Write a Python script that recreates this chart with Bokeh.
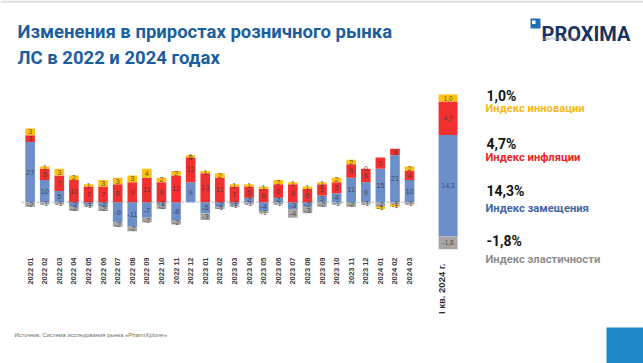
import math
from bokeh.plotting import figure
from bokeh.models import ColumnDataSource, FactorRange, Range1d, Label, BoxAnnotation
from bokeh.core.properties import value
from bokeh.embed import file_html
from bokeh.resources import INLINE

# ---------------- data ----------------
months = ["2022 01", "2022 02", "2022 03", "2022 04", "2022 05", "2022 06", "2022 07",
          "2022 08", "2022 09", "2022 10", "2022 11", "2022 12", "2023 01", "2023 02",
          "2023 03", "2023 04", "2023 05", "2023 06", "2023 07", "2023 08", "2023 09",
          "2023 10", "2023 11", "2023 12", "2024 01", "2024 02", "2024 03"]
substitution = [27, 10, 5, -2, -1, -2, -9, -11, -7, -1, -8, 9, -5, -2, -1, 2, -4, 2, -3, -2, 3, 4, 11, 9, 15, 21, 10]
inflation = [3, 5, 7, 10, 7, 7, 8, 9, 11, 9, 12, 11, 13, 11, 7, 5, 6, 6, 8, 6, 5, 5, 6, 6, 5, 3, 4]
innovation = [3, 1, 3, 2, 1, 3, 3, 3, 4, 2, 2, 1, 1, 2, 1, 1, 1, 2, 1, 1, 1, 2, 2, 0, -1, -1, 2]
elasticity = [-2, -1, -1, -2, -1, -2, -2, -2, -2, -2, -2, 0, -3, -1, -1, -1, -1, -1, -4, -3, -2, -1, -2, -1, -2, -1, -1]

summary_category = "I кв. 2024 г."
series_names = ["Индекс замещения", "Индекс инфляции", "Индекс инновации", "Индекс эластичности"]
summary_values = [14.3, 4.7, 1.0, -1.8]
legend_order = ["Индекс инновации", "Индекс инфляции", "Индекс замещения", "Индекс эластичности"]

title_lines = ["Изменения в приростах розничного рынка", "ЛС в 2022 и 2024 годах"]
source_text = "Источник: Система исследования рынка «PharmXplorer»"

# ---------------- styles ----------------
colors = {"Индекс замещения": "#6C8FCA", "Индекс инфляции": "#F2302F",
          "Индекс инновации": "#FFC10E", "Индекс эластичности": "#A6A6A6"}
text_colors = {"Индекс замещения": "#3F67A6", "Индекс инфляции": "#EA2424",
               "Индекс инновации": "#F7B916", "Индекс эластичности": "#8E8E8E"}
stack_order = ["Индекс замещения", "Индекс инфляции", "Индекс эластичности", "Индекс инновации"]

W, H = 643, 363

spacers = [" ", "  "]
trail = [" " * k for k in range(3, 14)]
factors = months + spacers + [summary_category] + trail

p = figure(width=W, height=H,
           x_range=FactorRange(factors=factors, range_padding=1.53, range_padding_units="absolute"),
           y_range=Range1d(-72.33, 90.45), output_backend="svg", toolbar_location=None,
           min_border=0, x_axis_location=None, y_axis_location=None, outline_line_color=None)
p.extra_y_ranges = {"summary": Range1d(-17.89, 33.24)}
p.xgrid.visible = False
p.ygrid.visible = False

# ---- stacked month bars ----
month_series = {"Индекс замещения": substitution, "Индекс инфляции": inflation,
                "Индекс инновации": innovation, "Индекс эластичности": elasticity}
seg = dict(x=[], bottom=[], top=[], color=[], label=[], ly=[])
for i, m in enumerate(months):
    pos, neg = 0.0, 0.0
    for name in stack_order:
        v = month_series[name][i]
        if v >= 0:
            b, t = pos, pos + v
            pos = t
        else:
            b, t = neg + v, neg
            neg = b
        seg["x"].append(m)
        seg["bottom"].append(b)
        seg["top"].append(t)
        seg["color"].append(colors[name])
        seg["label"].append(str(v))
        seg["ly"].append((b + t) / 2)
src = ColumnDataSource(seg)

# zero line
zl = ColumnDataSource(dict(x=[[months[0], -0.6], [months[-1], 0.5]], y=[0, 0]))
p.line("x", "y", source=zl, line_color="#CFCFCF", line_width=1.5, line_dash="3 2")

p.vbar(x="x", bottom="bottom", top="top", width=0.66, fill_color="color",
       line_color=None, source=src)
p.text(x="x", y="ly", text="label", source=src, text_font=value("Liberation Sans"),
       text_font_size="7.5px", text_color="#3A3A3A", text_alpha=0.85,
       text_align="center", text_baseline="middle")

# month tick labels (vertical, reading upward, ending just under the bars)
tick_src = ColumnDataSource(dict(x=months, y=[-24.8] * len(months), t=months))
p.text(x="x", y="y", text="t", source=tick_src, angle=math.pi / 2,
       text_font=value("Liberation Sans"), text_font_size="7.5px", text_font_style="bold",
       text_color="#404040", text_align="right", text_baseline="middle")

# ---- summary bar ----
sseg = dict(x=[], bottom=[], top=[], color=[], label=[], ly=[])
pos, neg = 0.0, 0.0
for name in stack_order:
    v = summary_values[series_names.index(name)]
    if v >= 0:
        b, t = pos, pos + v
        pos = t
    else:
        b, t = neg + v, neg
        neg = b
    sseg["x"].append([summary_category, -0.36])
    sseg["bottom"].append(b)
    sseg["top"].append(t)
    sseg["color"].append(colors[name])
    sseg["label"].append(f"{v:.1f}".replace(".", ","))
    sseg["ly"].append((b + t) / 2)
ssrc = ColumnDataSource(sseg)
p.vbar(x="x", bottom="bottom", top="top", width=1.3, fill_color="color",
       line_color=None, source=ssrc, y_range_name="summary")
p.text(x="x", y="ly", text="label", source=ssrc, y_range_name="summary",
       text_font=value("Liberation Sans"), text_font_size="6.5px", text_color="#3A3A3A",
       text_alpha=0.85, text_align="center", text_baseline="middle")


def lab(text, rx, ry, size, color, bold=True, font="Roboto", align="left",
        baseline="alphabetic", angle=0.0):
    p.add_layout(Label(x=rx, y=H - ry, x_units="screen", y_units="screen",
                       text=text, text_font=font, text_font_size=f"{size}px",
                       text_font_style="bold" if bold else "normal", text_color=color,
                       text_align=align, text_baseline=baseline, angle=angle))


def box(l, r, t, b, color):
    p.add_layout(BoxAnnotation(left=l, right=r, top=H - t, bottom=H - b,
                               left_units="screen", right_units="screen",
                               top_units="screen", bottom_units="screen",
                               fill_color=color, fill_alpha=1.0, line_color=None))


# thin top rule
box(0, W, 0, 2, "#DCDCDC")

# title
lab(title_lines[0], 17, 31, 18.5, "#1B5E9F")
lab(title_lines[1], 17, 57, 18.5, "#1B5E9F")

# logo
box(530, 540, 18, 28, "#1E6FB8")
box(531.5, 535, 20, 23.5, "#FFFFFF")
lab("PROXIMA", 541, 33, 20, "#1A3260")
lab("ANALYSE  NOT  GUESS", 542, 38, 3.5, "#9A9A9A", bold=False)

# category label for summary bar
lab(summary_category, 441, 263, 9.5, "#303030", font="Liberation Sans", align="right",
    baseline="middle", angle=math.pi / 2)

# legend-like text on right
value_baselines = [95, 143, 190, 240]
name_baselines = [108, 157, 208, 259]
for k, name in enumerate(legend_order):
    v = summary_values[series_names.index(name)]
    lab(f"{v:.1f}%".replace(".", ","), 486, value_baselines[k], 14, "#151515")
    lab(name, 485, name_baselines[k], 11.2, text_colors[name])

# source
lab(source_text, 14, 334, 5.8, "#6E6E6E", bold=False, font="Liberation Sans")

# corner square
box(606, W, 327, H, "#2088C9")

open("out.html", "w").write(file_html(p, INLINE))
